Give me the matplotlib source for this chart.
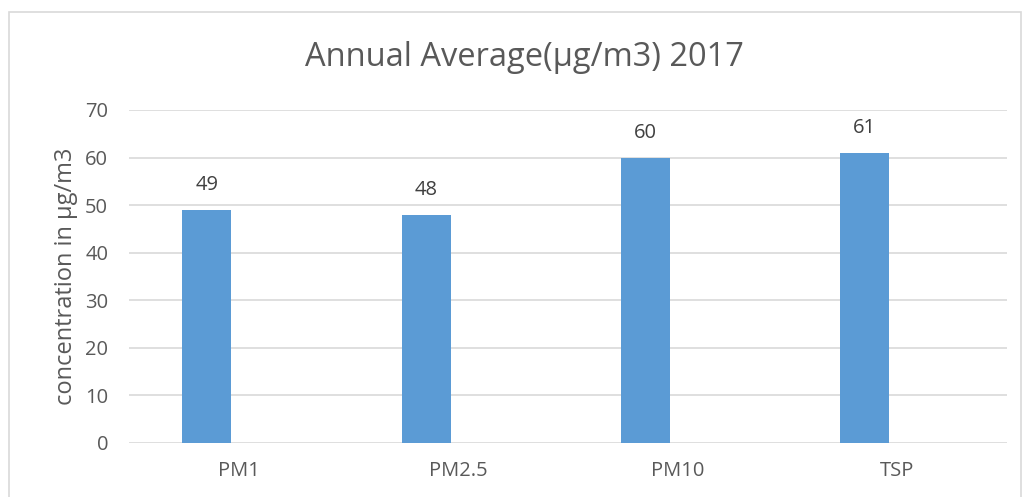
import matplotlib
matplotlib.use("Agg")
import matplotlib.pyplot as plt
import matplotlib.patches as mpatches
import numpy as np

# data
categories = ["PM1", "PM2.5", "PM10", "TSP"]
values = [49, 48, 60, 61]
yticks = [0, 10, 20, 30, 40, 50, 60, 70]

plt.rcParams['font.family'] = ['Open Sans', 'DejaVu Sans']
txt = '#595959'
grid = '#D9D9D9'

fig = plt.figure(figsize=(10.24, 4.97), dpi=100)
ax = fig.add_axes([0.126, 0.1087, 0.857, 0.67])

# outer chart border
fig.patches.append(mpatches.Rectangle((9/1024, -0.05), 1012/1024, 1 - 12/497 + 0.05,
                                      transform=fig.transFigure, fill=False,
                                      edgecolor=grid, linewidth=1.2))

x = np.arange(len(categories))
bars = ax.bar(x - 0.146, values, width=0.223, color='#5B9BD5', zorder=3)
for b, v in zip(bars, values):
    ax.annotate(str(v), (b.get_x() + b.get_width()/2, v), xytext=(0, 18),
                textcoords='offset points', ha='center', va='center',
                fontsize=14.5, color='#404040')

ax.set_xlim(-0.5, len(categories) - 0.5)
ax.set_ylim(0, 70)
ax.set_yticks(yticks)
ax.set_xticks(x)
ax.set_xticklabels(categories)
ax.tick_params(axis='both', length=0, labelsize=14.5, colors=txt)
ax.tick_params(axis='y', pad=15)
ax.tick_params(axis='x', pad=13)
ax.yaxis.grid(True, color=grid, linewidth=1.2, zorder=0)
for s in ax.spines.values():
    s.set_visible(False)

ax.set_ylabel('concentration in µg/m3', fontsize=17, color=txt, labelpad=5)
fig.text(0.512, 0.884, 'Annual Average(µg/m3) 2017', ha='center', va='center',
         fontsize=23.5, color=txt)

fig.savefig('out.png', dpi=100)
